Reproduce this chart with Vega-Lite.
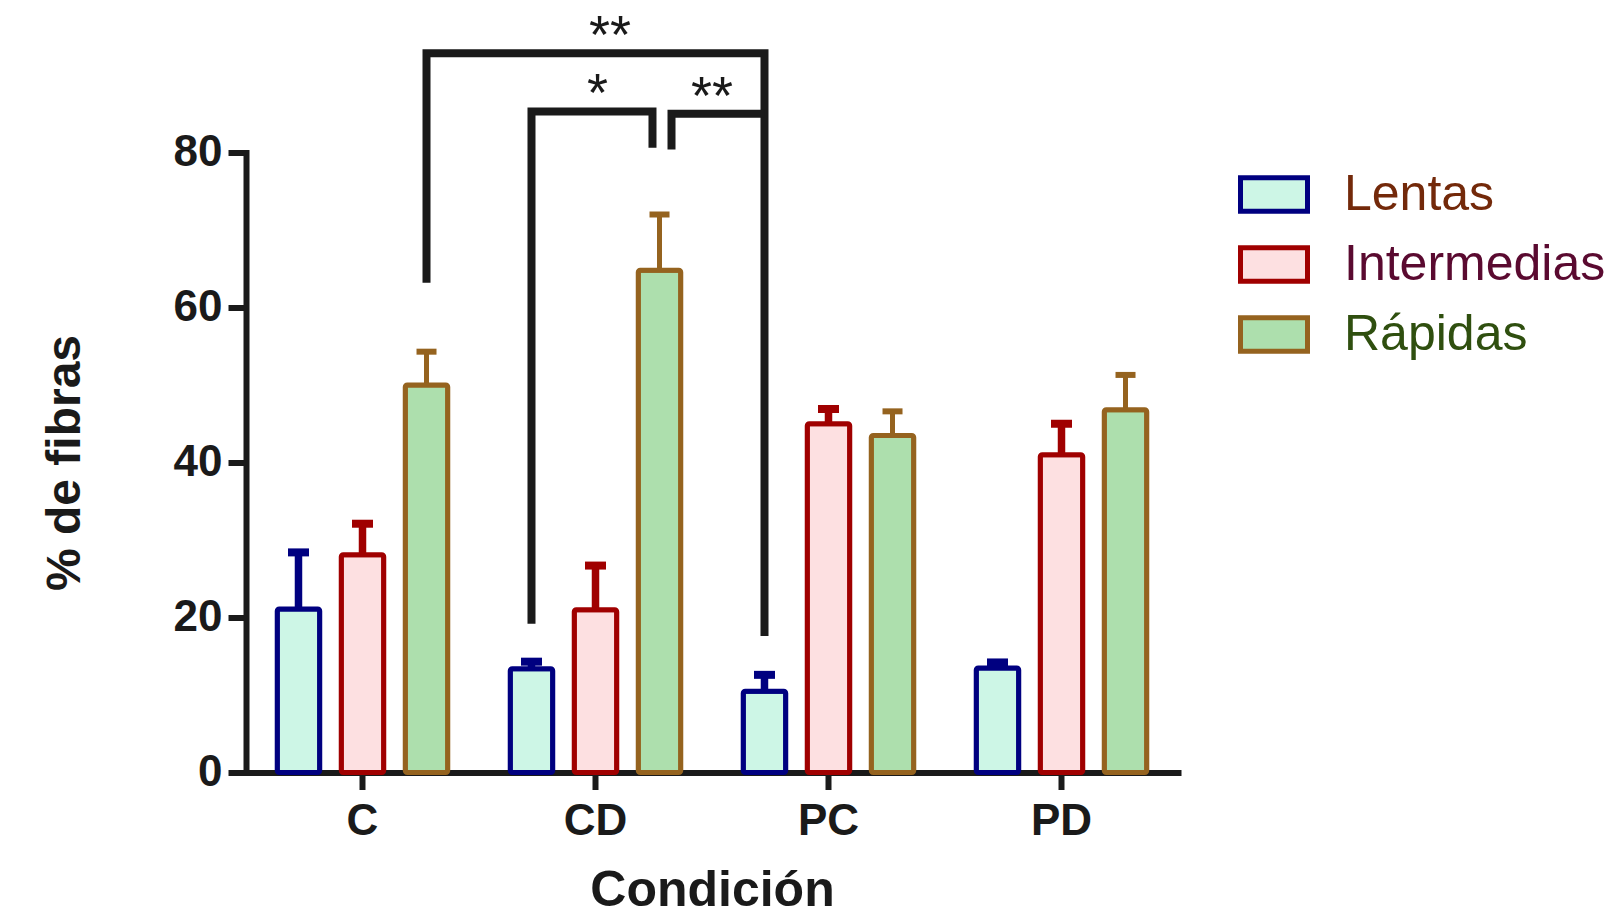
{
  "$schema": "https://vega.github.io/schema/vega-lite/v6.json",
  "width": 932,
  "height": 620,
  "autosize": {"type": "none"},
  "padding": {"left": 246, "top": 152.5, "right": 435, "bottom": 144.5},
  "background": "white",
  "config": {
    "font": "Liberation Sans",
    "view": {"stroke": null},
    "axis": {
      "grid": false,
      "domainColor": "#1a1a1a",
      "tickColor": "#1a1a1a",
      "labelColor": "#1a1a1a",
      "titleColor": "#1a1a1a",
      "domainWidth": 6,
      "tickWidth": 6,
      "domainCap": "square",
      "labelFont": "Liberation Sans",
      "labelFontWeight": "bold",
      "labelFontSize": 44,
      "titleFont": "Liberation Sans",
      "titleFontWeight": "bold"
    },
    "axisY": {"tickSize": 18, "labelPadding": 6, "titleFontSize": 48, "titlePadding": 84},
    "axisX": {"tickSize": 17, "labelPadding": 10, "titleFontSize": 50, "titlePadding": 22, "labelAngle": 0},
    "legend": {
      "orient": "right", "offset": 54, "padding": 6, "direction": "vertical",
      "symbolType": "M-1,-0.5H1V0.5H-1Z", "symbolSize": 4489, "symbolStrokeWidth": 5,
      "labelFont": "Liberation Sans", "labelFontSize": 50, "labelFontWeight": "normal",
      "labelOffset": 34, "rowPadding": 7, "labelLimit": 600
    }
  },
  "datasets": {
    "barras": [
      {"Condicion": "C", "Tipo": "Lentas", "media": 21.1, "sup": 28.4},
      {"Condicion": "C", "Tipo": "Intermedias", "media": 28.1, "sup": 32.1},
      {"Condicion": "C", "Tipo": "Rápidas", "media": 50.0, "sup": 54.3},
      {"Condicion": "CD", "Tipo": "Lentas", "media": 13.4, "sup": 14.3},
      {"Condicion": "CD", "Tipo": "Intermedias", "media": 21.0, "sup": 26.7},
      {"Condicion": "CD", "Tipo": "Rápidas", "media": 64.8, "sup": 72.0},
      {"Condicion": "PC", "Tipo": "Lentas", "media": 10.5, "sup": 12.6},
      {"Condicion": "PC", "Tipo": "Intermedias", "media": 45.0, "sup": 46.9},
      {"Condicion": "PC", "Tipo": "Rápidas", "media": 43.5, "sup": 46.6},
      {"Condicion": "PD", "Tipo": "Lentas", "media": 13.5, "sup": 14.2},
      {"Condicion": "PD", "Tipo": "Intermedias", "media": 41.0, "sup": 45.0},
      {"Condicion": "PD", "Tipo": "Rápidas", "media": 46.8, "sup": 51.3}
    ],
    "corchetes": [
      {"id": "C-PC", "orden": 1, "x": 0.7747, "y": 63.2},
      {"id": "C-PC", "orden": 2, "x": 0.7747, "y": 92.8},
      {"id": "C-PC", "orden": 3, "x": 2.2253, "y": 92.8},
      {"id": "C-PC", "orden": 4, "x": 2.2253, "y": 17.6},
      {"id": "CD", "orden": 1, "x": 1.2253, "y": 19.2},
      {"id": "CD", "orden": 2, "x": 1.2253, "y": 85.3},
      {"id": "CD", "orden": 3, "x": 1.7446, "y": 85.3},
      {"id": "CD", "orden": 4, "x": 1.7446, "y": 80.6},
      {"id": "CD-PC", "orden": 1, "x": 1.8262, "y": 80.4},
      {"id": "CD-PC", "orden": 2, "x": 1.8262, "y": 85.0},
      {"id": "CD-PC", "orden": 3, "x": 2.2253, "y": 85.0}
    ],
    "asteriscos": [
      {"x": 1.562, "y": 92.8, "texto": "**"},
      {"x": 1.509, "y": 85.4, "texto": "*"},
      {"x": 2.0, "y": 85.0, "texto": "**"}
    ]
  },
  "layer": [
    {
      "data": {"name": "barras"},
      "layer": [
        {
          "transform": [{"filter": "datum.Tipo !== 'Rápidas'"}],
          "mark": {"type": "rule", "strokeWidth": 7.5, "opacity": 1},
          "encoding": {
            "x": {"field": "Condicion", "type": "nominal", "scale": {"paddingInner": 0, "paddingOuter": 0}, "axis": {"title": "Condición"}},
            "xOffset": {"field": "Tipo", "type": "nominal", "sort": ["Lentas", "Intermedias", "Rápidas"], "scale": {"domain": ["Lentas", "Intermedias", "Rápidas"], "paddingInner": 0.336, "paddingOuter": 0.488}},
            "y": {"field": "media", "type": "quantitative", "scale": {"domain": [0, 80]}, "axis": {"title": "% de fibras", "values": [0, 20, 40, 60, 80]}},
            "y2": {"field": "sup"},
            "color": {"field": "Tipo", "type": "nominal", "scale": {"domain": ["Rápidas", "Intermedias", "Lentas"], "range": ["#95631f", "#a00000", "#000080"]}, "legend": null}
          }
        },
        {
          "transform": [{"filter": "datum.Tipo === 'Rápidas'"}],
          "mark": {"type": "rule", "strokeWidth": 5, "opacity": 1},
          "encoding": {
            "x": {"field": "Condicion", "type": "nominal", "scale": {"paddingInner": 0, "paddingOuter": 0}, "axis": {"title": "Condición"}},
            "xOffset": {"field": "Tipo", "type": "nominal", "sort": ["Lentas", "Intermedias", "Rápidas"], "scale": {"domain": ["Lentas", "Intermedias", "Rápidas"], "paddingInner": 0.336, "paddingOuter": 0.488}},
            "y": {"field": "media", "type": "quantitative", "scale": {"domain": [0, 80]}, "axis": {"title": "% de fibras", "values": [0, 20, 40, 60, 80]}},
            "y2": {"field": "sup"},
            "color": {"field": "Tipo", "type": "nominal", "scale": {"domain": ["Rápidas", "Intermedias", "Lentas"], "range": ["#95631f", "#a00000", "#000080"]}, "legend": null}
          }
        },
        {
          "transform": [{"filter": "datum.Tipo !== 'Rápidas'"}],
          "mark": {"type": "tick", "thickness": 8, "size": 21, "opacity": 1},
          "encoding": {
            "x": {"field": "Condicion", "type": "nominal", "scale": {"paddingInner": 0, "paddingOuter": 0}, "axis": {"title": "Condición"}},
            "xOffset": {"field": "Tipo", "type": "nominal", "sort": ["Lentas", "Intermedias", "Rápidas"], "scale": {"domain": ["Lentas", "Intermedias", "Rápidas"], "paddingInner": 0.336, "paddingOuter": 0.488}},
            "y": {"field": "sup", "type": "quantitative", "scale": {"domain": [0, 80]}, "axis": {"title": "% de fibras", "values": [0, 20, 40, 60, 80]}},
            "color": {"field": "Tipo", "type": "nominal", "scale": {"domain": ["Rápidas", "Intermedias", "Lentas"], "range": ["#95631f", "#a00000", "#000080"]}, "legend": null}
          }
        },
        {
          "transform": [{"filter": "datum.Tipo === 'Rápidas'"}],
          "mark": {"type": "tick", "thickness": 6, "size": 20, "opacity": 1},
          "encoding": {
            "x": {"field": "Condicion", "type": "nominal", "scale": {"paddingInner": 0, "paddingOuter": 0}, "axis": {"title": "Condición"}},
            "xOffset": {"field": "Tipo", "type": "nominal", "sort": ["Lentas", "Intermedias", "Rápidas"], "scale": {"domain": ["Lentas", "Intermedias", "Rápidas"], "paddingInner": 0.336, "paddingOuter": 0.488}},
            "y": {"field": "sup", "type": "quantitative", "scale": {"domain": [0, 80]}, "axis": {"title": "% de fibras", "values": [0, 20, 40, 60, 80]}},
            "color": {"field": "Tipo", "type": "nominal", "scale": {"domain": ["Rápidas", "Intermedias", "Lentas"], "range": ["#95631f", "#a00000", "#000080"]}, "legend": null}
          }
        },
        {
          "mark": {"type": "bar", "strokeWidth": 5, "cornerRadius": 2, "strokeJoin": "round", "fillOpacity": 1},
          "encoding": {
            "x": {"field": "Condicion", "type": "nominal", "scale": {"paddingInner": 0, "paddingOuter": 0}, "axis": {"title": "Condición"}},
            "xOffset": {"field": "Tipo", "type": "nominal", "sort": ["Lentas", "Intermedias", "Rápidas"], "scale": {"domain": ["Lentas", "Intermedias", "Rápidas"], "paddingInner": 0.336, "paddingOuter": 0.488}},
            "y": {"field": "media", "type": "quantitative", "scale": {"domain": [0, 80]}, "axis": {"title": "% de fibras", "values": [0, 20, 40, 60, 80]}},
            "fill": {
              "field": "Tipo", "type": "nominal",
              "scale": {"domain": ["Lentas", "Intermedias", "Rápidas"], "range": ["#cdf6e6", "#fde0e1", "#addfad"]},
              "legend": {
                "title": null,
                "labelColor": {"expr": "datum.label === 'Lentas' ? '#73290a' : datum.label === 'Intermedias' ? '#5a0a30' : '#2f4f0f'"}
              }
            },
            "stroke": {
              "field": "Tipo", "type": "nominal",
              "scale": {"domain": ["Lentas", "Intermedias", "Rápidas"], "range": ["#000080", "#a00000", "#95631f"]},
              "legend": {
                "title": null,
                "labelColor": {"expr": "datum.label === 'Lentas' ? '#73290a' : datum.label === 'Intermedias' ? '#5a0a30' : '#2f4f0f'"}
              }
            }
          }
        }
      ]
    },
    {
      "layer": [
        {
          "data": {"name": "corchetes"},
          "mark": {"type": "line", "stroke": "#1a1a1a", "strokeWidth": 8, "strokeJoin": "miter", "strokeCap": "butt"},
          "encoding": {
            "x": {"field": "x", "type": "quantitative", "scale": {"domain": [0, 4], "nice": false, "zero": false}, "axis": null},
            "y": {"field": "y", "type": "quantitative", "scale": {"domain": [0, 80]}, "axis": {"title": "% de fibras", "values": [0, 20, 40, 60, 80]}},
            "detail": {"field": "id", "type": "nominal"},
            "order": {"field": "orden", "type": "quantitative"}
          }
        },
        {
          "data": {"name": "asteriscos"},
          "mark": {"type": "text", "font": "Liberation Sans", "fontSize": 54, "baseline": "alphabetic", "align": "center", "color": "#1a1a1a"},
          "encoding": {
            "x": {"field": "x", "type": "quantitative", "scale": {"domain": [0, 4], "nice": false, "zero": false}, "axis": null},
            "y": {"field": "y", "type": "quantitative", "scale": {"domain": [0, 80]}, "axis": {"title": "% de fibras", "values": [0, 20, 40, 60, 80]}},
            "text": {"field": "texto"}
          }
        }
      ]
    }
  ],
  "resolve": {"scale": {"x": "independent"}}
}
